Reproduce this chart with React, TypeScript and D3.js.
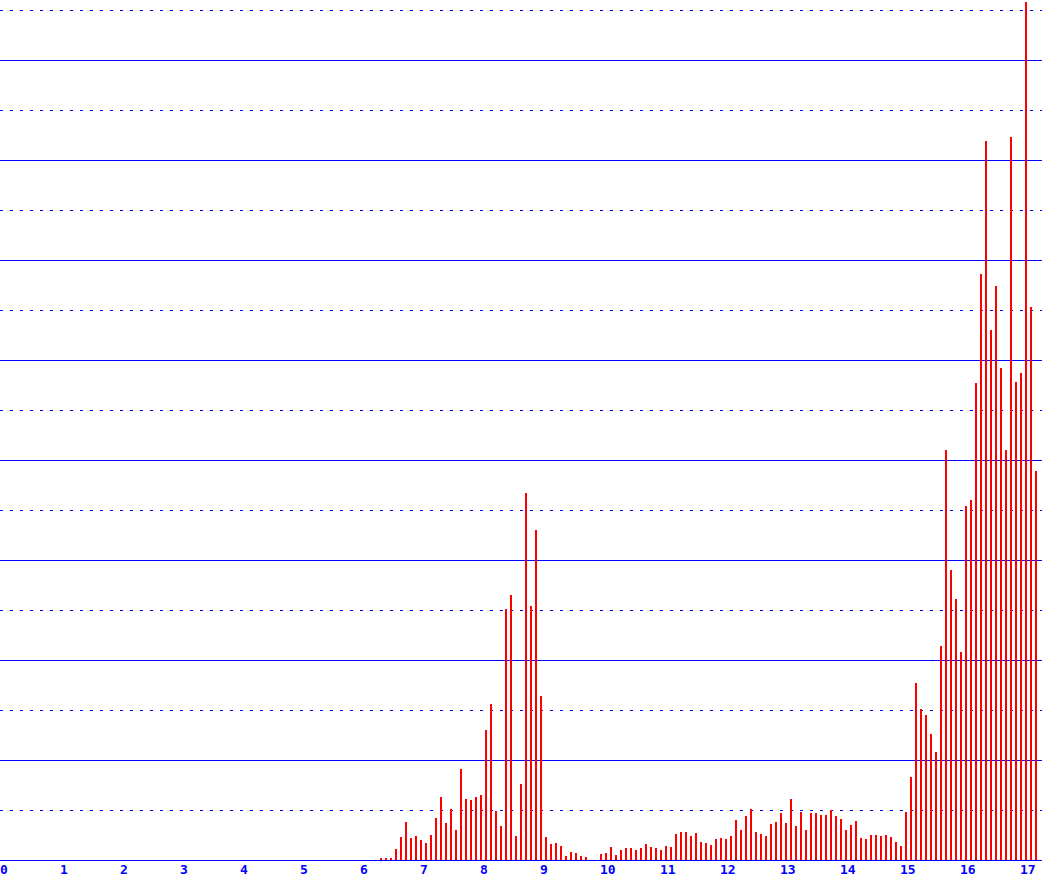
import { useEffect, useRef } from 'react'
import * as d3 from 'd3'

// first bar sits at year 6, month index 4; one bar per month
const START_YEAR = 6
const START_MONTH = 4

const MONTHLY_VALUES = [
  0.2, 0.2, 0.2, 1.1, 2.3, 3.8, 2.2, 2.4, 2.0, 1.7, 2.5, 4.2,
  6.3, 3.7, 5.1, 3.0, 9.1, 6.1, 6.0, 6.3, 6.5, 13.0, 15.6, 4.9,
  3.4, 25.1, 26.5, 2.4, 7.6, 36.7, 25.4, 33.0, 16.4, 2.3, 1.6, 1.7,
  1.4, 0.4, 0.8, 0.7, 0.4, 0.3, 0, 0, 0.6, 0.7, 1.3, 0.5,
  1.0, 1.2, 1.2, 1.0, 1.2, 1.6, 1.3, 1.2, 1.0, 1.4, 1.3, 2.6,
  2.8, 2.8, 2.4, 2.7, 1.8, 1.7, 1.5, 2.1, 2.2, 2.1, 2.4, 4.0,
  3.0, 4.4, 5.1, 2.8, 2.6, 2.4, 3.6, 3.8, 4.7, 3.7, 6.1, 3.4,
  4.8, 3.0, 4.7, 4.7, 4.5, 4.5, 5.0, 4.4, 4.1, 3.0, 3.5, 3.9,
  2.2, 2.1, 2.5, 2.5, 2.4, 2.5, 2.3, 1.8, 1.4, 4.8, 8.3, 17.7,
  15.1, 14.5, 12.6, 10.8, 21.4, 41.0, 29.0, 26.1, 20.8, 35.4, 36.0, 47.7,
  58.6, 71.9, 53.0, 57.4, 49.2, 41.0, 72.3, 47.8, 48.7, 85.8, 55.3, 38.9,
]

const X_TICKS = d3.range(0, 18)
const Y_GRID = d3.range(5, 90, 5)

export default function App() {
  const ref = useRef<SVGSVGElement>(null)

  useEffect(() => {
    const width = 1042
    const height = 880
    const baseY = 860

    const svg = d3.select(ref.current)
    svg.selectAll('*').remove()
    svg.attr('width', width).attr('height', height).attr('viewBox', `0 0 ${width} ${height}`)

    const x = d3.scaleLinear().domain([0, width / 60]).range([0, width])
    const y = d3.scaleLinear().domain([0, 86]).range([baseY, 0])

    svg.append('rect').attr('width', width).attr('height', height).attr('fill', '#fff')

    // grid: solid every 10, dashed every odd 5
    svg.append('g')
      .selectAll('line')
      .data(Y_GRID)
      .join('line')
      .attr('x1', 0)
      .attr('x2', width)
      .attr('y1', d => Math.round(y(d)) + 0.5)
      .attr('y2', d => Math.round(y(d)) + 0.5)
      .attr('stroke', '#0000ff')
      .attr('stroke-width', 1)
      .attr('stroke-dasharray', d => (d % 10 === 0 ? null : '3,7'))
      .attr('shape-rendering', 'crispEdges')

    const data = MONTHLY_VALUES.map((v, i) => ({
      t: START_YEAR + (START_MONTH + i) / 12,
      v,
    }))

    svg.append('g')
      .selectAll('rect')
      .data(data.filter(d => d.v > 0))
      .join('rect')
      .attr('x', d => Math.round(x(d.t)))
      .attr('width', 2)
      .attr('y', d => Math.round(y(d.v)))
      .attr('height', d => baseY - Math.round(y(d.v)))
      .attr('fill', '#ff0000')
      .attr('shape-rendering', 'crispEdges')

    svg.append('line')
      .attr('x1', 0)
      .attr('x2', width)
      .attr('y1', baseY + 0.5)
      .attr('y2', baseY + 0.5)
      .attr('stroke', '#0000ff')
      .attr('shape-rendering', 'crispEdges')

    svg.append('g')
      .selectAll('text')
      .data(X_TICKS)
      .join('text')
      .attr('x', d => x(d))
      .attr('y', 874)
      .attr('fill', '#0000ff')
      .attr('font-family', '"DejaVu Sans Mono", monospace')
      .attr('font-weight', 'bold')
      .attr('font-size', 13)
      .text(d => String(d))
  }, [])

  return (
    <div style={{ position: 'absolute', left: 0, top: 0 }}>
      <svg ref={ref} style={{ display: 'block' }} />
    </div>
  )
}
